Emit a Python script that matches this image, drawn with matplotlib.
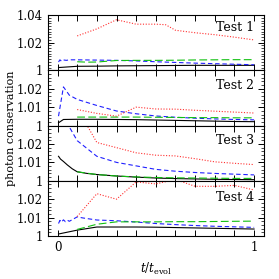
import numpy as np
import matplotlib
matplotlib.use('Agg')
import matplotlib.pyplot as plt
from matplotlib.ticker import MultipleLocator, FormatStrFormatter

plt.rcParams['font.family'] = 'DejaVu Serif'
plt.rcParams['mathtext.fontset'] = 'dejavuserif'

# ---------------- data ----------------
# Test 1
t1_black = [0.005, 0.1, 0.2, 0.3, 0.4, 0.5, 0.6, 0.7, 0.8, 0.9, 1.0]
v1_black = [1.0020, 1.0029, 1.0030, 1.0032, 1.0033, 1.0034, 1.0035, 1.0036, 1.0036, 1.0036, 1.0036]
t1_blue = [0.005, 0.012, 0.02, 0.03, 0.045, 0.06, 0.1, 0.2, 0.3, 0.4, 0.5, 0.6, 0.7, 0.8, 0.9, 1.0]
v1_blue = [1.0060, 1.0076, 1.0066, 1.0075, 1.0072, 1.0076, 1.0076, 1.0074, 1.0072, 1.0068,
           1.0062, 1.0057, 1.0052, 1.0048, 1.0044, 1.0040]
t1_green = [0.1, 0.15, 0.2, 0.3, 0.4, 0.5, 0.6, 0.7, 0.8, 0.9, 1.0]
v1_green = [1.0062, 1.0059, 1.0060, 1.0071, 1.0072, 1.0072, 1.0073, 1.0075, 1.0076, 1.0077, 1.0077]
t1_red = [0.1, 0.2, 0.3, 0.4, 0.5, 0.55, 0.6, 0.7, 0.8, 0.9, 1.0]
v1_red = [1.0249, 1.0300, 1.0366, 1.0334, 1.0334, 1.0330, 1.0290, 1.0272, 1.0258, 1.0240, 1.0220]

# Test 2
t2_black = [0.005, 0.03, 0.1, 0.2, 0.3, 0.4, 0.5, 0.6, 0.7, 0.8, 0.9, 1.0]
v2_black = [1.0015, 1.0033, 1.0034, 1.0034, 1.0033, 1.0032, 1.0030, 1.0028, 1.0026, 1.0024, 1.0022, 1.0021]
t2_blue = [0.005, 0.03, 0.06, 0.1, 0.2, 0.3, 0.4, 0.5, 0.6, 0.7, 0.8, 0.9, 1.0]
v2_blue = [1.0051, 1.0210, 1.0165, 1.0142, 1.0109, 1.0079, 1.0064, 1.0052, 1.0045, 1.0040,
           1.0036, 1.0033, 1.0031]
t2_green = [0.1, 0.2, 0.3, 0.4, 0.5, 0.6, 0.7, 0.8, 0.9, 1.0]
v2_green = [1.0046, 1.0046, 1.0046, 1.0046, 1.0045, 1.0044, 1.0043, 1.0043, 1.0042, 1.0042]
t2_red = [0.1, 0.2, 0.3, 0.4, 0.5, 0.6, 0.7, 0.8, 0.9, 1.0]
v2_red = [1.0087, 1.0066, 1.0051, 1.0100, 1.0090, 1.0089, 1.0083, 1.0078, 1.0073, 1.0068]

# Test 3
t3_black = [0.005, 0.015, 0.03, 0.05, 0.075, 0.1, 0.15, 0.2, 0.3, 0.4, 0.5, 0.6, 0.7, 0.8, 0.9, 1.0]
v3_black = [1.0133, 1.0118, 1.0105, 1.0086, 1.0065, 1.0049, 1.0040, 1.0034, 1.0026, 1.0020,
            1.0015, 1.0012, 1.0010, 1.0008, 1.0007, 1.0006]
t3_green = [0.1, 0.2, 0.3, 0.4, 0.5, 0.6, 0.7, 0.8, 0.9, 1.0]
v3_green = [1.0049, 1.0034, 1.0026, 1.0021, 1.0018, 1.0016, 1.0015, 1.0014, 1.0013, 1.0013]
t3_blue = [0.045, 0.1, 0.2, 0.3, 0.4, 0.5, 0.6, 0.7, 0.8, 0.9, 1.0]
v3_blue = [1.0320, 1.0218, 1.0133, 1.0100, 1.0081, 1.0062, 1.0052, 1.0045, 1.0040, 1.0036, 1.0032]
t3_red = [0.14, 0.2, 0.3, 0.4, 0.5, 0.6, 0.7, 0.8, 0.9, 1.0]
v3_red = [1.0320, 1.0208, 1.0180, 1.0152, 1.0139, 1.0135, 1.0120, 1.0103, 1.0095, 1.0088]

# Test 4
t4_black = [0.005, 0.1, 0.2, 0.3, 0.4, 0.5, 0.6, 0.7, 0.8, 0.9, 1.0]
v4_black = [1.0011, 1.0032, 1.0049, 1.0049, 1.0049, 1.0048, 1.0046, 1.0044, 1.0042, 1.0040, 1.0038]
t4_blue = [0.005, 0.012, 0.02, 0.03, 0.04, 0.05, 0.06, 0.08, 0.1, 0.13, 0.2, 0.3, 0.4, 0.5,
           0.6, 0.7, 0.8, 0.9, 1.0]
v4_blue = [1.0068, 1.0085, 1.0075, 1.0088, 1.0078, 1.0086, 1.0080, 1.0092, 1.0104, 1.0098,
           1.0087, 1.0083, 1.0076, 1.0068, 1.0062, 1.0057, 1.0053, 1.0050, 1.0047]
t4_green = [0.1, 0.2, 0.3, 0.4, 0.5, 0.6, 0.7, 0.8, 0.9, 1.0]
v4_green = [1.0036, 1.0064, 1.0077, 1.0077, 1.0077, 1.0078, 1.0078, 1.0079, 1.0080, 1.0081]
t4_red = [0.1, 0.2, 0.3, 0.4, 0.5, 0.6, 0.7, 0.8, 0.9, 1.0]
v4_red = [1.0106, 1.0230, 1.0200, 1.0294, 1.0283, 1.0307, 1.0270, 1.0270, 1.0275, 1.0250]

panels = [
    ('Test 1', (t1_black, v1_black), (t1_blue, v1_blue), (t1_green, v1_green), (t1_red, v1_red)),
    ('Test 2', (t2_black, v2_black), (t2_blue, v2_blue), (t2_green, v2_green), (t2_red, v2_red)),
    ('Test 3', (t3_black, v3_black), (t3_blue, v3_blue), (t3_green, v3_green), (t3_red, v3_red)),
    ('Test 4', (t4_black, v4_black), (t4_blue, v4_blue), (t4_green, v4_green), (t4_red, v4_red)),
]
ytops = [1.04, 1.03, 1.03, 1.03]
yticks = [[1.0, 1.02, 1.04], [1.0, 1.01, 1.02], [1.0, 1.01, 1.02], [1.0, 1.01, 1.02]]
label_y = [0.89, 0.84, 0.84, 0.82]

fig, axes = plt.subplots(4, 1, figsize=(2.79, 2.79), dpi=100, sharex=True)
fig.subplots_adjust(left=0.171, right=0.946, top=0.946, bottom=0.154, hspace=0)

for ax, (name, bk, bl, gr, rd), ytop, yt, ly in zip(axes, panels, ytops, yticks, label_y):
    ax.plot(bk[0], bk[1], color='black', lw=0.8)
    ax.plot(bl[0], bl[1], color='#2020ff', lw=0.8, ls=(0, (4, 2.5)))
    ax.plot(gr[0], gr[1], color='#10c010', lw=0.8, ls=(0, (7, 3)))
    ax.plot(rd[0], rd[1], color='#ff3030', lw=0.8, ls=(0, (1, 1.5)))

    ax.set_xlim(-0.05, 1.05)
    ax.set_ylim(1.0, ytop)
    ax.xaxis.set_major_locator(MultipleLocator(0.1))
    ax.set_yticks(yt)
    ax.yaxis.set_minor_locator(MultipleLocator(0.002))
    ax.yaxis.set_major_formatter(FormatStrFormatter('%g'))
    ax.tick_params(which='both', direction='in', top=True, right=True, labelsize=8.5)
    ax.tick_params(which='major', length=4.5, width=0.7)
    ax.tick_params(which='minor', length=2.5, width=0.5)
    for sp in ax.spines.values():
        sp.set_linewidth(0.8)
    ax.text(0.955, ly, name, transform=ax.transAxes, ha='right', va='top', fontsize=9)

axes[-1].set_xticks(np.arange(0, 1.01, 0.1))
axes[-1].set_xticklabels(['0', '', '', '', '', '', '', '', '', '', '1'])
axes[-1].set_xlabel(r'$t/t_{\rm evol}$', fontsize=8.5, labelpad=5)
fig.text(0.04, 0.54, 'photon conservation', rotation=90, ha='center', va='center', fontsize=8)

fig.savefig('out.png', dpi=100)
